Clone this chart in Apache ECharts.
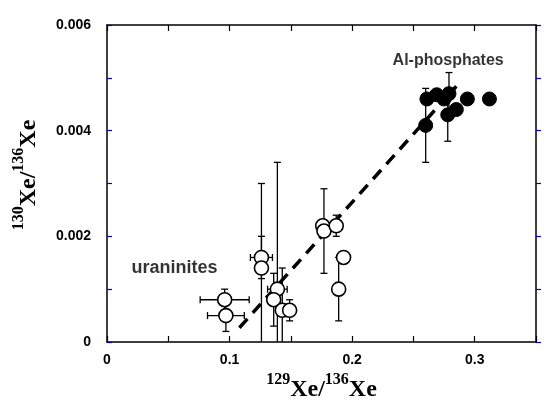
<!DOCTYPE html>
<html><head><meta charset="utf-8">
<script src="https://cdn.jsdelivr.net/npm/echarts@6/dist/echarts.min.js"></script>
<style>html,body{margin:0;padding:0;background:#fff}#c{width:550px;height:401px}</style>
</head><body><div id="c"></div>
<script>
// ---- data ----
const xTickLabels = ['0', '0.1', '0.2', '0.3'];
const yTickLabels = ['0', '0.002', '0.004', '0.006'];

const uranX    = [0.096, 0.097, 0.126, 0.126, 0.139, 0.136, 0.143, 0.149, 0.176, 0.177, 0.187, 0.193, 0.189];
const uranY    = [0.0008, 0.0005, 0.0016, 0.0014, 0.0010, 0.0008, 0.0006, 0.0006, 0.0022, 0.0021, 0.0022, 0.0016, 0.0010];
const uranXErr = [0.020, 0.015, 0.009, 0.000, 0.008, 0.004, 0.000, 0.004, 0.003, 0.000, 0.005, 0.000, 0.000];
const uranYErr = [0.0002, 0.0003, 0.0004, 0.0016, 0.0024, 0.0005, 0.0008, 0.0002, 0.0000, 0.0008, 0.0002, 0.0000, 0.0006];

const phosX    = [0.261, 0.260, 0.269, 0.275, 0.278, 0.279, 0.285, 0.294, 0.312];
const phosY    = [0.0046, 0.0041, 0.00468, 0.0046, 0.0043, 0.0047, 0.0044, 0.0046, 0.0046];
const phosXErr = [0.000, 0.000, 0.000, 0.000, 0.000, 0.000, 0.000, 0.000, 0.000];
const phosYErr = [0.0001, 0.0007, 0.0001, 0.0001, 0.0005, 0.0004, 0.0001, 0.0001, 0.0001];

const fitX = [0.108, 0.285];
const fitY = [0.00027, 0.00484];

const labels = [
  {text: 'Al-phosphates', x: 0.233, y: 0.00533},
  {text: 'uraninites', x: 0.020, y: 0.00140}
];

// ---- build ----
function pts(xs, ys) { return xs.map((x, i) => [x, ys[i]]); }
function errData(xs, ys, xe, ye) { return xs.map((x, i) => [x, ys[i], xe[i], ye[i]]); }

function errRender(params, api) {
  const x = api.value(0), y = api.value(1), xe = api.value(2), ye = api.value(3);
  const cs = params.coordSys;
  const clipY = v => Math.max(cs.y, Math.min(cs.y + cs.height, v));
  const clipX = v => Math.max(cs.x, Math.min(cs.x + cs.width, v));
  const children = [];
  const st = {stroke: '#000', lineWidth: 1.3};
  const cap = 3.5;
  if (ye > 0) {
    const t = api.coord([x, y + ye]), b = api.coord([x, y - ye]);
    const ty = clipY(t[1]), by = clipY(b[1]);
    children.push({type: 'line', shape: {x1: t[0], y1: ty, x2: t[0], y2: by}, style: st});
    if (ty === t[1]) children.push({type: 'line', shape: {x1: t[0] - cap, y1: ty, x2: t[0] + cap, y2: ty}, style: st});
    if (by === b[1]) children.push({type: 'line', shape: {x1: b[0] - cap, y1: by, x2: b[0] + cap, y2: by}, style: st});
  }
  if (xe > 0) {
    const l = api.coord([x - xe, y]), r = api.coord([x + xe, y]);
    const lx = clipX(l[0]), rx = clipX(r[0]);
    children.push({type: 'line', shape: {x1: lx, y1: l[1], x2: rx, y2: l[1]}, style: st});
    children.push({type: 'line', shape: {x1: lx, y1: l[1] - cap, x2: lx, y2: l[1] + cap}, style: st});
    children.push({type: 'line', shape: {x1: rx, y1: r[1] - cap, x2: rx, y2: r[1] + cap}, style: st});
  }
  return {type: 'group', children};
}

function xLabel(v) {
  const k = Math.round(v / 0.05);
  return k % 2 === 0 ? xTickLabels[k / 2] : '';
}
function yLabel(v) {
  const k = Math.round(v / 0.001);
  return k % 2 === 0 ? yTickLabels[k / 2] : '';
}

const tickFont = {fontFamily: 'Liberation Sans, Arial, sans-serif', fontSize: 14, color: '#000', fontWeight: 'bold'};
const titleRich = {
  b: {fontFamily: 'Liberation Serif, Times New Roman, serif', fontSize: 24, fontWeight: 'bold', color: '#000', verticalAlign: 'bottom', lineHeight: 30},
  s: {fontFamily: 'Liberation Serif, Times New Roman, serif', fontSize: 16, fontWeight: 'bold', color: '#000', verticalAlign: 'top', lineHeight: 30, padding: [0, 0, 11, 0]}
};
const labelFont = {fontFamily: 'Liberation Sans, Arial, sans-serif', fontWeight: 'bold', color: '#000'};
const labelSizes = [16, 18];

const chart = echarts.init(document.getElementById('c'), null, {renderer: 'canvas'});
chart.setOption({
  animation: false,
  grid: {left: 107, right: 14, top: 25, bottom: 59, containLabel: false, outerBoundsMode: 'none'},
  xAxis: [{
    type: 'value', min: 0, max: 0.35, interval: 0.05, position: 'bottom',
    axisLine: {onZero: false, lineStyle: {color: '#000', width: 1.5}},
    axisTick: {inside: true, length: 6, lineStyle: {color: '#000', width: 1.2}},
    axisLabel: Object.assign({formatter: xLabel, margin: 11}, tickFont),
    splitLine: {show: false},
    name: '{s|129}{b|Xe/}{s|136}{b|Xe}', nameLocation: 'middle', nameGap: 27,
    nameTextStyle: {rich: titleRich}
  }, {
    type: 'value', min: 0, max: 0.35, interval: 0.05, position: 'top',
    axisLine: {onZero: false, lineStyle: {color: '#000', width: 1.5}},
    axisTick: {inside: true, length: 6, lineStyle: {color: '#000', width: 1.2}},
    axisLabel: {show: false}, splitLine: {show: false}
  }],
  yAxis: [{
    type: 'value', min: 0, max: 0.006, interval: 0.001, position: 'left',
    axisLine: {onZero: false, lineStyle: {color: '#000', width: 1.5}},
    axisTick: {inside: true, length: 5, lineStyle: {color: '#0000cc', width: 1.2}},
    axisLabel: Object.assign({formatter: yLabel, margin: 16}, tickFont),
    splitLine: {show: false},
    name: '{s|130}{b|Xe/}{s|136}{b|Xe}', nameLocation: 'middle', nameGap: 66, nameRotate: 90,
    nameTextStyle: {rich: titleRich, padding: [0, 0, 0, 17]}
  }, {
    type: 'value', min: 0, max: 0.006, interval: 0.001, position: 'right',
    axisLine: {onZero: false, lineStyle: {color: '#000', width: 1.5}},
    axisTick: {inside: false, length: 5, lineStyle: {color: '#0000cc', width: 1.2}},
    axisLabel: {show: false}, splitLine: {show: false}
  }],
  series: [
    {
      type: 'line', data: pts(fitX, fitY), symbol: 'none', z: 1,
      lineStyle: {color: '#000', width: 3.5, type: [12, 8]}
    },
    {type: 'custom', renderItem: errRender, data: errData(uranX, uranY, uranXErr, uranYErr), z: 2, clip: true},
    {type: 'custom', renderItem: errRender, data: errData(phosX, phosY, phosXErr, phosYErr), z: 2, clip: true},
    {
      type: 'scatter', data: pts(uranX, uranY), symbol: 'circle', symbolSize: 14, z: 3,
      itemStyle: {color: '#fff', borderColor: '#000', borderWidth: 1.6, opacity: 1}
    },
    {
      type: 'scatter', data: pts(phosX, phosY), symbol: 'circle', symbolSize: 14, z: 3,
      itemStyle: {color: '#000', borderColor: '#000', borderWidth: 1, opacity: 1}
    },
    {
      type: 'scatter', z: 4, symbolSize: 0,
      data: labels.map((l, i) => ({
        value: [l.x, l.y], name: l.text,
        label: Object.assign({fontSize: labelSizes[i]}, labelFont)
      })),
      label: {show: true, position: 'right', distance: 0, formatter: p => p.name}
    }
  ]
});
</script></body></html>
